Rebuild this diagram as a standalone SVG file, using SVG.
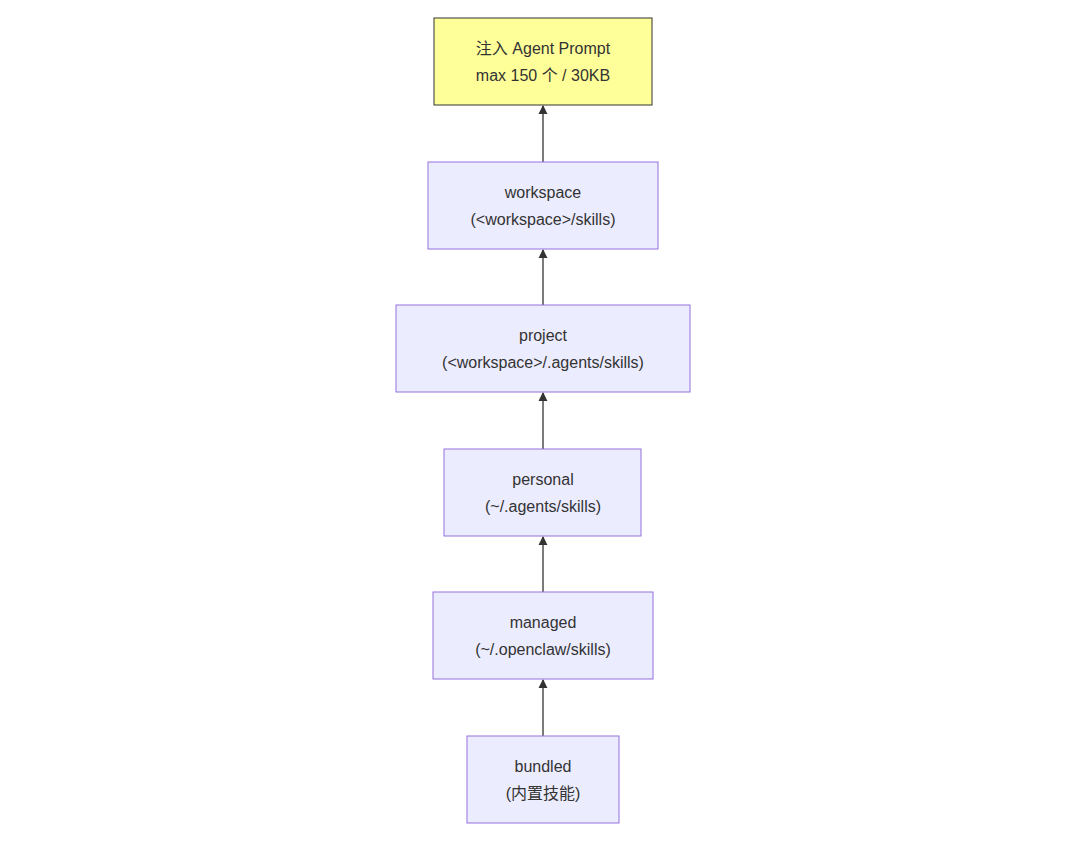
<svg xmlns="http://www.w3.org/2000/svg" width="1080" height="862" viewBox="0 0 1080 862">
<style>
.n{fill:#ECECFF;stroke:#9370DB;stroke-width:1}
.y{fill:#FFFF99;stroke:#333;stroke-width:1}
text{font-family:"Liberation Sans","Noto Sans CJK SC",sans-serif;font-size:16px;fill:#333;text-anchor:middle}
.e{stroke:#333;stroke-width:1.3;fill:none;marker-end:url(#a)}
</style>
<defs><marker id="a" viewBox="0 0 10 10" refX="9" refY="5" markerWidth="7" markerHeight="7" orient="auto"><path d="M0,0L10,5L0,10z" fill="#333"/></marker></defs>
<rect width="1080" height="862" fill="#fff"/>
<g id="edges">
<path class="e" d="M543,162V106"/>
<path class="e" d="M543,305V250"/>
<path class="e" d="M543,449V393"/>
<path class="e" d="M543,592V537"/>
<path class="e" d="M543,736V680"/>
</g>
<g id="inject"><rect class="y" x="434" y="18" width="218" height="87"/><text x="543" y="54">注入 Agent Prompt</text><text x="543" y="81">max 150 个 / 30KB</text></g>
<g id="workspace"><rect class="n" x="428" y="162" width="230" height="87"/><text x="543" y="198">workspace</text><text x="543" y="225">(&lt;workspace&gt;/skills)</text></g>
<g id="project"><rect class="n" x="396" y="305" width="294" height="87"/><text x="543" y="341">project</text><text x="543" y="368">(&lt;workspace&gt;/.agents/skills)</text></g>
<g id="personal"><rect class="n" x="444" y="449" width="197" height="87"/><text x="543" y="485">personal</text><text x="543" y="512">(~/.agents/skills)</text></g>
<g id="managed"><rect class="n" x="433" y="592" width="220" height="87"/><text x="543" y="628">managed</text><text x="543" y="655">(~/.openclaw/skills)</text></g>
<g id="bundled"><rect class="n" x="467" y="736" width="152" height="87"/><text x="543" y="772">bundled</text><text x="543" y="799">(内置技能)</text></g>
</svg>
